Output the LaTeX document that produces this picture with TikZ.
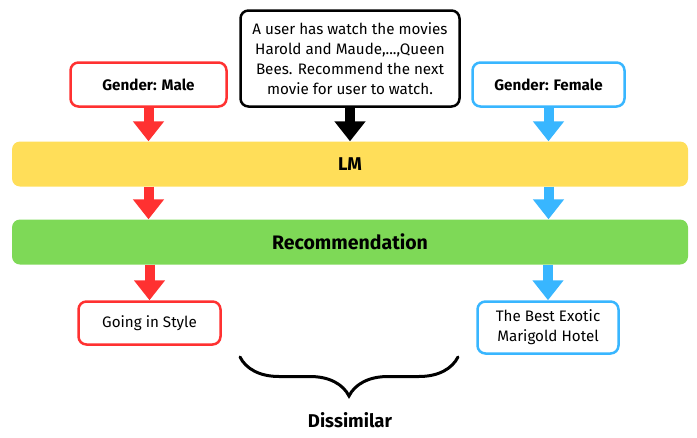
\documentclass[tikz,border=0pt]{standalone}
\usepackage{fontspec}
\setmainfont{Fira Sans}
\usetikzlibrary{arrows.meta,decorations.pathreplacing}
\definecolor{male-red}{HTML}{FF3131}
\definecolor{female-blue}{HTML}{38B6FF}
\definecolor{lm-yellow}{HTML}{FFDE59}
\definecolor{rec-green}{HTML}{7ED957}
\tikzset{
    outlined-box/.style = {draw=#1, fill=white, line width=2.5pt, rectangle, rounded corners=8pt, align=center, inner sep=0pt, font=\fontsize{15.2}{20}\selectfont},
    wide-bar/.style = {fill=#1, rectangle, rounded corners=8pt, minimum width=676pt, minimum height=45pt, font=\fontsize{18.5}{20}\selectfont\bfseries},
    block-arrow/.style = {draw=#1, line width=10pt, -{Triangle[width=30pt,length=20pt]}},
}

\begin{document}
\begin{tikzpicture}[x=1pt, y=-1pt]
\useasboundingbox (0,0) rectangle (697,437);
\node[outlined-box=black, minimum width=219pt, minimum height=96pt] (prompt) at (350,58.5) {A user has watch the movies\\Harold and Maude,...,Queen\\Bees. Recommend the next\\movie for user to watch.};
\node[outlined-box=male-red, minimum width=156pt, minimum height=44pt, font=\fontsize{15.2}{20}\selectfont\bfseries] (male) at (148.5,84.5) {Gender: Male};
\node[outlined-box=female-blue, minimum width=152pt, minimum height=44pt, font=\fontsize{15.2}{20}\selectfont\bfseries] (female) at (548.5,84.5) {Gender: Female};
\node[wide-bar=lm-yellow] (lm) at (350,164) {LM};
\node[wide-bar=rec-green, font=\fontsize{19.5}{20}\selectfont\bfseries] (rec) at (350,242) {Recommendation};
\node[outlined-box=male-red, minimum width=142pt, minimum height=43pt] (going) at (149.5,323) {Going in Style};
\node[outlined-box=female-blue, minimum width=141pt, minimum height=52pt] (exotic) at (548,327.5) {The Best Exotic\\Marigold Hotel};
\draw[block-arrow=male-red] (male.south) -- (male.south |- lm.north);
\draw[block-arrow=black] (prompt.south) -- (prompt.south |- lm.north);
\draw[block-arrow=female-blue] (female.south) -- (female.south |- lm.north);
\draw[block-arrow=male-red] (lm.south -| male.south) -- (male.south |- rec.north);
\draw[block-arrow=female-blue] (lm.south -| female.south) -- (female.south |- rec.north);
\draw[block-arrow=male-red] (rec.south -| going.north) -- (going.north);
\draw[block-arrow=female-blue] (rec.south -| exotic.north) -- (exotic.north);
\coordinate (brace-left) at (240,357);
\coordinate (brace-right) at (458,357);
\draw[line width=3pt, line cap=round, decorate, decoration={brace, mirror, amplitude=39pt}] (brace-left) -- (brace-right);
\node[font=\fontsize{18.5}{20}\selectfont\bfseries] (dissimilar) at (350,420) {Dissimilar};
\end{tikzpicture}
\end{document}
